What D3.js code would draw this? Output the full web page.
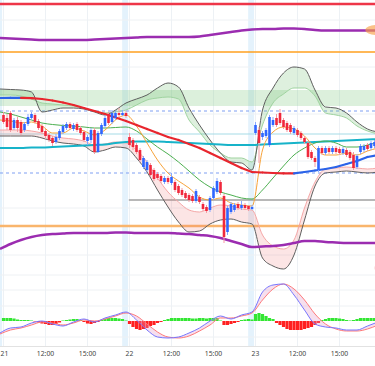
<!DOCTYPE html>
<html><head><meta charset="utf-8">
<script src="https://cdn.jsdelivr.net/npm/d3@7"></script>
<style>html,body{margin:0;padding:0;background:#fff;}svg{display:block;font-family:"Noto Sans",Roboto,sans-serif;}</style>
</head><body><svg id="c" width="375" height="366"></svg>
<script>
// ---------- DATA ----------
const open = [185,182,187,172,180,178,170,176,182,185,179,174,169,165,162,158,162,168,172,176,171,176,172,168,159,160,170,148,166,174,186,178,182,187,185,187,
163,160,155,150,133,130,135,130,126,124,118,122,117,118,114,110,107,105,104,99,103,96,93,90,102,108,118,104,68,88,90,96,92,95,94,91,
167,170,163,164,155,175,182,187,180,177,175,167,170,167,162,157,148,142,130,152,147,152,148,152,151,147,150,148,145,133,148,150,155,152,154];
const close = [178,173,170,180,172,167,176,183,186,178,172,168,164,160,157,163,169,174,176,172,175,170,167,160,163,170,148,167,175,182,177,187,187,185,187,184,
155,153,148,140,142,138,125,121,122,119,122,118,123,110,107,105,102,100,99,109,98,91,89,102,112,119,107,63,92,96,95,92,95,92,91,93,
175,157,167,170,183,180,175,177,173,170,168,172,165,162,158,143,142,138,152,147,152,148,152,148,147,151,145,142,132,144,154,154,151,157,158];
const high = [188,186,189,182,183,180,178,186,188,187,181,176,171,167,164,166,171,176,178,178,177,178,174,170,165,172,172,169,177,185,188,190,189,192,190,189,
167,162,157,152,144,140,137,132,128,126,124,124,127,120,116,112,109,107,106,111,105,98,95,104,114,122,120,106,94,98,97,98,99,97,95,95,
178,173,169,172,185,183,186,191,182,179,177,174,172,169,164,159,150,144,154,154,154,154,154,154,153,153,152,150,148,146,156,156,157,159,160];
const low = [176,170,168,170,168,165,168,174,180,176,170,166,161,158,154,156,160,166,170,170,169,168,165,158,155,157,146,147,164,172,175,176,180,183,184,182,
152,150,146,138,131,128,123,119,120,117,116,116,115,108,105,103,100,98,97,97,96,89,87,88,100,106,105,57,65,86,88,90,90,90,89,90,
165,137,160,162,153,173,173,175,171,168,166,165,163,160,156,141,140,133,128,145,145,146,146,146,145,145,143,140,130,131,146,148,149,150,152];

const xLabels = ["21","12:00","15:00","22","12:00","15:00","23","12:00","15:00"];
const xLabelIdx = [0,12,24,36,48,60,72,84,96];
const dayStarts = [0,36,72];

// indicator lines, sampled every 3 bars starting at bar -1
const envUpper = [262,261.5,261,260.5,260,260,260,260,260,260.5,261,261.5,262,262.5,263,263,263,263,263,263.5,265,266.5,268,269.5,270.5,271,271,271.5,271.5,271,270,269.5,269.5,269.5,269.5,269.5,269.5];
const envLower = [51,56,60,63,65,66,66.5,67,67,67,67,67.5,67.5,67,67,67,67,66.5,66,65,64,62,59,56,53,53.5,54,55,57,59,59,58,57.5,57,57,57,57];
const maLong = [202,202.1,202.2,201.9,201,199.5,197.5,195,192,189,186,182.5,179,175,171,167,163,160,156,152,147,142,137,132,128,127.5,127,126.7,126.6,128,129.5,131,133,136,139,143,145];
const maCyan = [152,152,152,152.5,152.5,153,153.5,154,154.5,155,155.5,157,158,158.5,158.5,158.5,158,157.5,157,156.5,156,155.5,155,155,155,155.5,156,156.5,157,157.5,158,158.5,159,159.5,160,160.5,161];
const maMid = [188,186,183,180,177,175.5,174.5,174,173,172,172,172.5,173,169,161,153,146,138,129,120,113,108,105,102,101,110,122,134,145,152,157,159,157,153,153,155,158];
const maShort = [180,179,177,178,174,167,167,172,169,165,170,180,185,174,157,140,127,119,112,103,100,102,97,95,94,150,168,173,171,164,152,145,145,147,145,149,152];
const bbUpOuter = [211,210.5,210,208,188,190,192,192,191,188,185,190,197,201,205,212,217,213,192,175,160,147,138,137,130,190,212,227,233,231,210,193,192,187,178,171,168];
const bbUpInner = [205,205,204,201,197,196,195,194,192,189,187,188,190,195,200,202,203,201,180,168,155,147,142,142,138,175,197,206,212,212,204,187,185,182,174,169,166];
const bbLoOuter = [164,164,164,164,162,159,157,156,154,148,150,153,152,142,128,110,93,78,68,69,76,80,81,78,76,42,34,31,45,80,114,127,128,129,128,127,128];
const bbLoInner = [170,170,170,169,167,164,162,161,159,155,156,158,157,150,138,122,108,98,90,88,92,95,94,91,90,65,54,51,60,92,118,131,132,133,132,131,132];

// horizontal levels
const levelRed = 296, levelOrangeTop = 248, levelOrangeLow = 74;
const dashedLevels = [189, 127];
const cyanLevel = 166;
const grayLevel = 100;
const zoneTop = 210, zoneBottom = 194;

// MACD
const macd = [-12,-7,-6,-2,0,-3,-5,-1,2,-1,3,6,9,1,-9,-16,-17,-16,-12,-7,0,5,2,6,9,29,36,37,26,11,-3,-6,-7,-9,-9,-5,-1];
const signal = [-13,-9,-7,-4,-1,-2,-4,-2,1,0,2,5,8,5,-3,-11,-16,-17,-15,-10,-4,3,3,5,8,21,32,37,32,21,7,-3,-8,-10,-10,-8,-4];
const hist = [3,3,3,2.5,1.5,1,1,1,0.5,-0.5,-1.5,-2.5,-3,-4,-4,-3,-1.5,0.5,1,1.5,2,2,1,-1,-2.5,-3,-2,-1,1,2,3,3,3,2.5,2,0.5,
-3,-6,-8,-9,-8,-7,-5,-4,-2,-1,1,2,3,3,3,3,3,3,2.5,2.5,3,3,2.5,3,3,3,0.5,-4,-4,-3,-2,-1,1,1.5,2,1.5,
7,8,7,5,3,2,-2,-4,-6,-8,-9,-9,-9,-9,-8,-7,-6,-4,-2,1,2,3,3,3,2.5,2,1,0.5,1,2,3,3,3,3,3];
const gridPrice = [280,233,186,139,92,45];
const gridMacd = [46,31,15,-16];

// ---------- CHART ----------
const W = 375, H = 366;
const svg = d3.select("#c");
const x = d3.scaleLinear().domain([-1, 106.142857]).range([0, W]);
const yP = d3.scaleLinear().domain([300, 25]).range([0, 275]);
const yM = d3.scaleLinear().domain([50, -25]).range([271, 346]);
const sIdx = d3.range(-1, 108, 3);

svg.append("defs").append("clipPath").attr("id","pc").append("rect").attr("x",0).attr("y",0).attr("width",W).attr("height",274);

// day bands
svg.selectAll(".day").data(dayStarts).join("rect")
  .attr("x", d => x(d-2.1)).attr("width", d => x(d-0.4)-x(d-2.1))
  .attr("y",0).attr("height",346).attr("fill","#e4f2fc");

// grids
svg.selectAll(".vg").data(xLabelIdx).join("line")
  .attr("x1",d=>x(d)).attr("x2",d=>x(d)).attr("y1",0).attr("y2",346)
  .attr("stroke","#edf1f5").attr("stroke-width",1);
svg.selectAll(".hg").data(gridPrice).join("line")
  .attr("x1",0).attr("x2",W).attr("y1",d=>yP(d)).attr("y2",d=>yP(d))
  .attr("stroke","#eef1f4");
svg.selectAll(".mg").data(gridMacd).join("line")
  .attr("x1",0).attr("x2",W).attr("y1",d=>yM(d)).attr("y2",d=>yM(d))
  .attr("stroke","#eef1f4");
svg.append("line").attr("x1",0).attr("x2",W).attr("y1",346.5).attr("y2",346.5).attr("stroke","#e2e2e2");

const g = svg.append("g").attr("clip-path","url(#pc)");

// zone
g.append("rect").attr("x",0).attr("width",W).attr("y",yP(zoneTop)).attr("height",yP(zoneBottom)-yP(zoneTop))
  .attr("fill","rgba(130,200,130,0.28)");

// levels
g.append("line").attr("x1",0).attr("x2",W).attr("y1",yP(levelRed)).attr("y2",yP(levelRed)).attr("stroke","#ee3548").attr("stroke-width",2.5);
g.append("line").attr("x1",0).attr("x2",W).attr("y1",yP(levelOrangeTop)).attr("y2",yP(levelOrangeTop)).attr("stroke","#ffa01f").attr("stroke-width",1.5);
g.selectAll(".dl").data(dashedLevels).join("line").attr("x1",0).attr("x2",W).attr("y1",d=>yP(d)).attr("y2",d=>yP(d))
  .attr("stroke","#7f9ff2").attr("stroke-width",1).attr("stroke-dasharray","3,3");
g.append("line").attr("x1",0).attr("x2",W).attr("y1",yP(cyanLevel)).attr("y2",yP(cyanLevel)).attr("stroke","#a5dbe6").attr("stroke-width",1);
g.append("line").attr("x1",x(dayStarts[1]-0.2)).attr("x2",W).attr("y1",yP(grayLevel)).attr("y2",yP(grayLevel)).attr("stroke","#a0a0a0").attr("stroke-width",1.5);
g.append("line").attr("x1",0).attr("x2",W).attr("y1",yP(levelOrangeLow)).attr("y2",yP(levelOrangeLow)).attr("stroke","#f9b56c").attr("stroke-width",2.5);

const curve = d3.curveMonotoneX;
const lineOf = arr => d3.line().x((d,i)=>x(sIdx[i])).y(d=>yP(d)).curve(curve)(arr);
const areaOf = (a,b) => d3.area().x((d,i)=>x(sIdx[i])).y0((d,i)=>yP(a[i])).y1((d,i)=>yP(b[i])).curve(curve)(a);

// bands
g.append("path").attr("d",areaOf(bbUpOuter,bbUpInner)).attr("fill","rgba(90,180,90,0.2)");
g.append("path").attr("d",areaOf(bbLoOuter,bbLoInner)).attr("fill","rgba(240,110,110,0.18)");
g.append("path").attr("d",lineOf(bbUpInner)).attr("fill","none").attr("stroke","#9fd39f").attr("stroke-width",1);
g.append("path").attr("d",lineOf(bbLoInner)).attr("fill","none").attr("stroke","#f5a7a7").attr("stroke-width",1);
g.append("path").attr("d",lineOf(bbUpOuter)).attr("fill","none").attr("stroke","#5f5f5f").attr("stroke-width",1);
g.append("path").attr("d",lineOf(bbLoOuter)).attr("fill","none").attr("stroke","#5f5f5f").attr("stroke-width",1);

// envelopes
g.append("path").attr("d",lineOf(envUpper)).attr("fill","none").attr("stroke","#9b2cb0").attr("stroke-width",2.5);
g.append("path").attr("d",lineOf(envLower)).attr("fill","none").attr("stroke","#9b2cb0").attr("stroke-width",2.5);

// MAs
g.append("path").attr("d",lineOf(maCyan)).attr("fill","none").attr("stroke","#17b3c9").attr("stroke-width",2);
g.append("path").attr("d",lineOf(maMid)).attr("fill","none").attr("stroke","#4caf50").attr("stroke-width",1);
g.append("path").attr("d",lineOf(maShort)).attr("fill","none").attr("stroke","#f7a33a").attr("stroke-width",1);
const segs = d3.range(maLong.length-1);
g.selectAll(".ml").data(segs).join("line")
  .attr("x1",i=>x(sIdx[i])).attr("x2",i=>x(sIdx[i+1]))
  .attr("y1",i=>yP(maLong[i])).attr("y2",i=>yP(maLong[i+1]))
  .attr("stroke",i=> maLong[i+1] >= maLong[i] ? "#2b63e8" : "#e8262e")
  .attr("stroke-width",2.2).attr("stroke-linecap","round");

// candles
const idx = d3.range(open.length);
const up = i => close[i] >= open[i];
g.selectAll(".wick").data(idx).join("line")
  .attr("x1",i=>x(i)).attr("x2",i=>x(i)).attr("y1",i=>yP(high[i])).attr("y2",i=>yP(low[i]))
  .attr("stroke",i=>up(i)?"#86a8ff":"#f59aa3").attr("stroke-width",1);
g.selectAll(".body").data(idx).join("rect")
  .attr("x",i=>x(i)-1.3).attr("width",2.6)
  .attr("y",i=>yP(Math.max(open[i],close[i])))
  .attr("height",i=>Math.max(1,Math.abs(yP(open[i])-yP(close[i]))))
  .attr("fill",i=>up(i)?"#2f66ff":"#f0283c");

// edge markers
g.append("ellipse").attr("cx",x(106.5)).attr("cy",yP(270)).attr("rx",11).attr("ry",5).attr("fill","rgba(247,160,70,0.65)");
g.append("circle").attr("cx",x(107.2)).attr("cy",yP(32)).attr("r",4).attr("fill","rgba(240,110,110,0.6)");

// MACD
svg.selectAll(".hb").data(idx).join("rect")
  .attr("x",i=>x(i)-1.6).attr("width",3.2)
  .attr("y",i=>yM(Math.max(0,hist[i]))).attr("height",i=>Math.abs(yM(hist[i])-yM(0)))
  .attr("fill",i=>hist[i]>=0?"#33e633":"#ff2121");
svg.append("path").attr("d", d3.area().x((d,i)=>x(sIdx[i])).y0((d,i)=>yM(signal[i])).y1(d=>yM(d)).curve(curve)(macd))
  .attr("fill","rgba(225,150,200,0.3)");
svg.append("path").attr("d", d3.line().x((d,i)=>x(sIdx[i])).y(d=>yM(d)).curve(curve)(signal))
  .attr("fill","none").attr("stroke","#ff7a7a").attr("stroke-width",1);
svg.append("path").attr("d", d3.line().x((d,i)=>x(sIdx[i])).y(d=>yM(d)).curve(curve)(macd))
  .attr("fill","none").attr("stroke","#7676ff").attr("stroke-width",1);

// x labels
svg.selectAll(".xl").data(xLabels).join("text")
  .attr("x",(d,i)=>x(xLabelIdx[i])).attr("y",356)
  .attr("text-anchor","middle").attr("font-size",6.8).attr("fill","#444").text(d=>d)
  .each(function(){
    const w = this.getComputedTextLength();
    const cx = +this.getAttribute("x");
    if (cx - w/2 < 0.5) this.setAttribute("x", w/2 + 0.5);
  });
</script></body></html>
